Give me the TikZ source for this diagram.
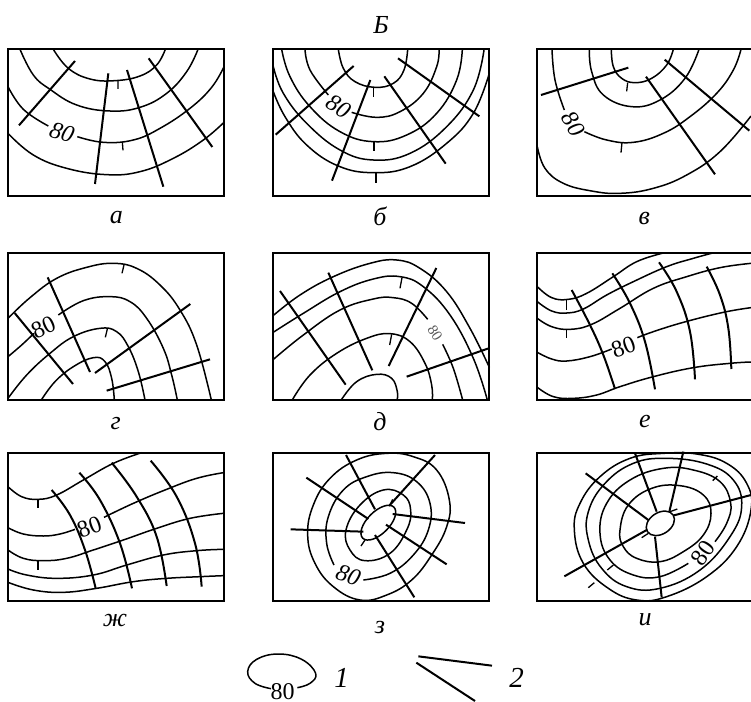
\documentclass[tikz,border=0pt]{standalone}
\usepackage{fontspec}
\setmainfont{Liberation Serif}
\tikzset{
 panel/.style={x=0.33333pt,y=-0.33333pt},
 frm/.style={line width=2.1pt,line join=miter},
 iso/.style={line width=1.5pt},
 prof/.style={line width=2pt},
 tck/.style={line width=1.3pt},
 val/.style={font=\fontsize{24}{24}\selectfont\itshape,inner sep=0pt,fill=none},
 lab/.style={font=\fontsize{26}{26}\selectfont\itshape,inner sep=0pt},
 num/.style={font=\fontsize{29}{29}\selectfont\itshape,inner sep=0pt},
 plain/.style={font=\fontsize{24}{24}\selectfont,inner sep=0pt}
}
\newcommand{\iso}[1]{\draw[iso] plot[smooth,tension=0.7] coordinates {#1};}
\newcommand{\isoc}[1]{\draw[iso] plot[smooth cycle,tension=0.7] coordinates {#1};}
\begin{document}
\begin{tikzpicture}[x=1pt,y=-1pt]
\useasboundingbox (0,0) rectangle (751,701);
\node[lab] (title) at (381,25) {Б};
% a
\begin{scope}[panel,shift={(0pt,0pt)}]
\iso{(160,148)(205,205)(270,237)(345,242)(420,228)(470,195)(496,148)}
\iso{(60,148)(100,225)(150,268)(230,315)(330,333)(420,322)(500,280)(560,215)(594,148)}
\iso{(24,260)(70,328)(145,378)}
\iso{(232,410)(310,427)(400,420)(480,385)(570,325)(635,262)(672,200)}
\iso{(24,400)(100,465)(200,505)(320,524)(420,515)(520,475)(610,420)(672,367)}
\draw[prof] (57,376)--(225,183) (285,552)--(325,220) (490,560)--(381,210) (637,441)--(446,175);
\draw[tck] (354,242)--(354,267) (367,425)--(369,451);
\draw[frm] (24,147) rectangle (672,588);
\node[val,rotate=-18] (a80) at (186,397) {80};
\node[lab] (la) at (349,652) {а};
\end{scope}
% b
\begin{scope}[panel,shift={(260pt,0pt)}]
\iso{(235,148)(250,205)(285,245)(345,262)(400,250)(432,210)(443,148)}
\iso{(135,148)(150,210)(205,285)}
\iso{(275,337)(350,352)(420,335)(490,280)(530,200)(537,148)}
\iso{(65,148)(90,230)(150,320)(240,395)(340,425)(440,405)(530,340)(590,240)(607,148)}
\iso{(40,200)(70,280)(140,370)(240,450)(340,480)(450,460)(560,380)(640,270)(672,150)}
\iso{(38,270)(75,350)(140,435)(235,498)(340,518)(450,500)(560,430)(640,340)(688,220)}
\draw[prof] (47,404)--(281,198) (216,542)--(331,240) (557,491)--(373,229) (658,349)--(414,175);
\draw[tck] (340,262)--(340,291) (342,425)--(342,454) (348,518)--(348,550);
\draw[frm] (38,147) rectangle (686,588);
\node[val,rotate=-32] (b80) at (236,320) {80};
\node[lab] (lb) at (360,650) {б};
\end{scope}
% v
\begin{scope}[panel,shift={(520pt,0pt)}]
\iso{(274,148)(280,200)(305,235)(345,248)(395,235)(440,195)(460,148)}
\iso{(208,148)(215,215)(250,285)(335,320)(420,300)(495,235)(537,148)}
\iso{(96,148)(105,240)(133,330)}
\iso{(193,395)(260,420)(340,427)(430,400)(510,350)(590,280)(640,210)(663,148)}
\iso{(52,440)(75,505)(130,550)(215,573)(300,580)(400,565)(500,525)(600,455)(693,348)}
\draw[prof] (63,285)--(325,203) (585,523)--(378,230) (688,392)--(434,179);
\draw[tck] (323,248)--(320,274) (306,427)--(303,458);
\draw[frm] (52,147) rectangle (700,588);
\node[val,rotate=-58] (v80) at (160,372) {80};
\node[lab] (lv) at (373,655) {в};
\end{scope}
% g
\begin{scope}[panel,shift={(0pt,-235pt)}]
\iso{(24,250)(90,188)(170,130)(260,97)(340,85)(410,100)(480,150)(540,225)(590,330)(634,495)}
\iso{(24,365)(65,330)(102,295)}
\iso{(175,240)(250,197)(330,185)(390,200)(440,250)(490,340)(515,420)(532,495)}
\iso{(24,490)(80,420)(150,355)(220,305)(300,280)(350,290)(385,335)(415,410)(435,495)}
\iso{(124,495)(165,440)(220,395)(280,368)(315,380)(335,430)(343,495)}
\draw[prof] (143,127)--(270,411) (44,234)--(219,447) (285,414)--(571,207) (320,467)--(630,373);
\draw[tck] (372,90)--(366,115) (322,282)--(316,307);
\draw[frm] (24,54) rectangle (672,495);
\node[plain,rotate=25] (g80) at (130,278) {80};
\node[lab] (lg) at (347,565) {г};
\end{scope}
% d
\begin{scope}[panel,shift={(260pt,-235pt)}]
\iso{(38,243)(120,180)(220,125)(330,85)(410,75)(480,100)(560,170)(630,280)(688,397)}
\iso{(38,293)(130,235)(240,170)(340,132)(420,125)(490,155)(570,240)(640,370)(682,495)}
\iso{(38,375)(130,300)(240,225)(340,192)(400,188)(455,205)(503,253)}
\iso{(548,328)(580,400)(608,495)}
\iso{(98,493)(150,420)(230,355)(320,310)(390,296)(450,320)(495,385)(515,450)(517,495)}
\iso{(245,493)(290,440)(350,418)(395,430)(412,470)(411,495)}
\draw[prof] (60,168)--(257,449) (205,113)--(337,406) (529,99)--(386,393) (440,425)--(686,340);
\draw[tck] (426,128)--(420,160) (395,298)--(389,330);
\draw[frm] (38,54) rectangle (686,495);
\node[inner sep=0pt,font=\fontsize{15}{15}\selectfont,rotate=-58,gray!70!black] (d80) at (525,295) {80};
\node[lab] (ld) at (360,560) {д};
\end{scope}
% e
\begin{scope}[panel,shift={(520pt,-235pt)}]
\iso{(52,155)(95,188)(145,193)(200,175)(280,125)(350,80)(430,54)}
\iso{(52,200)(95,228)(140,234)(190,222)(260,180)(340,140)(440,95)(520,70)(578,54)}
\iso{(52,250)(95,275)(150,283)(215,268)(300,220)(400,160)(500,125)(600,98)(693,85)}
\iso{(52,352)(95,372)(140,378)(210,365)(275,342)}
\iso{(352,308)(400,290)(490,262)(610,232)(693,218)}
\iso{(52,457)(100,485)(160,490)(230,480)(300,455)(400,425)(520,398)(630,385)(693,381)}
\draw[prof] plot[smooth,tension=0.7] coordinates {(155,165)(210,270)(250,360)(285,462)};
\draw[prof] plot[smooth,tension=0.7] coordinates {(277,115)(330,205)(375,320)(405,463)};
\draw[prof] plot[smooth,tension=0.7] coordinates {(417,82)(470,170)(510,290)(525,433)};
\draw[prof] plot[smooth,tension=0.7] coordinates {(560,95)(600,180)(625,280)(634,402)};
\draw[tck] (140,193)--(140,226) (140,283)--(140,310);
\draw[frm] (52,54) rectangle (700,495);
\node[plain,rotate=20] (e80) at (310,335) {80};
\node[lab] (le) at (375,560) {е};
\end{scope}
% zh
\begin{scope}[panel,shift={(0pt,-440pt)}]
\iso{(24,140)(65,170)(115,178)(170,165)(250,120)(340,70)(425,38)}
\iso{(24,263)(70,282)(130,288)(180,282)(225,268)}
\iso{(312,232)(400,190)(500,148)(590,115)(670,98)}
\iso{(24,330)(70,355)(130,362)(200,355)(280,330)(370,300)(470,265)(570,235)(670,220)}
\iso{(24,387)(80,405)(170,415)(280,405)(380,375)(490,345)(590,332)(670,328)}
\iso{(24,427)(100,450)(190,457)(290,445)(400,425)(500,415)(600,410)(670,407)}
\draw[prof] plot[smooth,tension=0.7] coordinates {(155,150)(210,225)(255,330)(287,445)};
\draw[prof] plot[smooth,tension=0.7] coordinates {(238,98)(300,180)(360,310)(396,445)};
\draw[prof] plot[smooth,tension=0.7] coordinates {(335,68)(410,170)(470,290)(500,438)};
\draw[prof] plot[smooth,tension=0.7] coordinates {(452,62)(530,170)(585,310)(605,440)};
\draw[tck] (114,178)--(114,205) (114,362)--(114,390);
\draw[frm] (24,40) rectangle (672,483);
\node[plain,rotate=20] (z80) at (268,262) {80};
\node[lab] (lz) at (345,540) {ж};
\end{scope}
% z
\begin{scope}[panel,shift={(260pt,-440pt)}]
\isoc{(380,40)(290,60)(210,115)(160,195)(143,285)(165,370)(220,440)(300,480)(380,465)(455,420)(515,345)(560,260)(568,180)(530,90)(460,50)}
\iso{(222,375)(200,310)(205,230)(250,150)(320,110)(400,98)(470,125)(510,190)(505,270)(460,345)(390,400)(310,420)}
\isoc{(300,195)(258,270)(270,330)(315,362)(390,340)(440,270)(452,210)(430,165)(370,150)}
\draw[iso,rotate around={45:(355,248)}] (355,248) ellipse [x radius=66,y radius=33];
\draw[prof] (258,45)--(345,208) (525,45)--(387,198) (398,222)--(615,249) (378,254)--(560,373) (345,285)--(463,472) (310,275)--(92,268) (325,237)--(139,113);
\draw[tck] (390,195)--(398,178) (315,300)--(303,318);
\draw[frm] (38,40) rectangle (686,483);
\node[val,rotate=-20] (zz80) at (265,405) {80};
\node[lab] (lzz) at (360,563) {з};
\end{scope}
% i
\begin{scope}[panel,shift={(520pt,-440pt)}]
\isoc{(430,40)(330,55)(240,110)(180,190)(163,270)(190,370)(265,445)(350,480)(440,470)(560,410)(650,320)(693,210)(680,130)(620,70)(530,42)}
\isoc{(440,55)(340,70)(255,130)(205,215)(205,300)(245,385)(320,440)(420,445)(540,390)(630,290)(665,200)(640,120)(560,72)}
\iso{(585,305)(620,250)(632,190)(600,125)(520,90)(430,85)(330,120)(260,190)(240,280)(270,360)(340,405)(420,410)(505,370)}
\isoc{(300,270)(325,195)(395,145)(480,137)(550,165)(573,220)(550,285)(490,335)(420,365)(350,355)(310,320)}
\draw[iso,rotate around={33:(421,250)}] (421,250) ellipse [x radius=46,y radius=32];
\draw[prof] (345,40)--(410,215) (490,35)--(448,215) (462,226)--(693,165) (405,290)--(425,472) (380,270)--(133,409) (385,240)--(197,100);
\draw[tck] (450,215)--(472,207) (385,280)--(365,293) (262,390)--(280,375) (205,443)--(223,428) (578,122)--(592,108);
\draw[frm] (52,40) rectangle (700,483);
\node[plain,rotate=55] (i80) at (550,340) {80};
\node[lab] (li) at (375,538) {и};
\end{scope}
% legend
\begin{scope}[panel,shift={(200pt,-630pt)}]
\iso{(213,176)(165,160)(143,125)(170,88)(235,72)(305,88)(347,130)(330,160)(292,173)}
\node[plain] (l80) at (248,184) {80};
\node[num] (l1) at (425,145) {1};
\draw[prof] (655,79)--(876,107) (649,98)--(825,213);
\node[num] (l2) at (950,145) {2};
\end{scope}
\end{tikzpicture}
\end{document}
